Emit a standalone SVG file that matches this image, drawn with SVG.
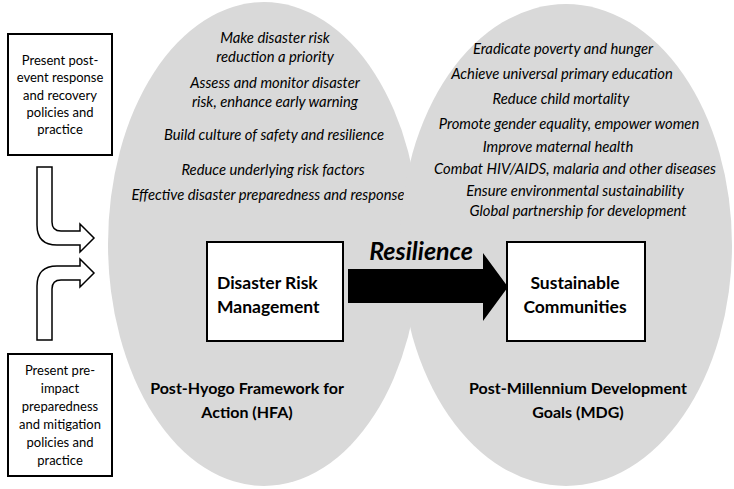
<svg xmlns="http://www.w3.org/2000/svg" width="734" height="489" viewBox="0 0 734 489">
<style>
.bg{fill:#d9d9d9;stroke:none}
.box{fill:#fff;stroke:#000;stroke-width:2}
.bent{fill:#fff;stroke:#000;stroke-width:1.5;stroke-linejoin:miter}
.t{font-family:Lato,"Liberation Sans",sans-serif;font-size:13px;fill:#000;text-anchor:middle}
.i{font-family:Lato,"Liberation Sans",sans-serif;font-size:14.8px;font-style:italic;fill:#000;text-anchor:middle}
.b{font-family:Lato,"Liberation Sans",sans-serif;font-size:16px;font-weight:bold;fill:#000;text-anchor:middle}
.bb{font-family:Lato,"Liberation Sans",sans-serif;font-size:17.5px;font-weight:bold;fill:#000}
.res{font-family:Lato,"Liberation Sans",sans-serif;font-size:25px;font-weight:bold;font-style:italic;fill:#000;text-anchor:middle}
</style>
<g id="hfa-ellipse">
<ellipse class="bg" cx="264" cy="244" rx="156" ry="242"/>
<text class="i" x="275" y="43">Make disaster risk</text>
<text class="i" x="275" y="62">reduction a priority</text>
<text class="i" x="275" y="88">Assess and monitor disaster</text>
<text class="i" x="275" y="107">risk, enhance early warning</text>
<text class="i" x="274" y="140">Build culture of safety and resilience</text>
<text class="i" x="273" y="175">Reduce underlying risk factors</text>
<text class="i" x="268" y="200">Effective disaster preparedness and response</text>
<text class="b" x="247" y="394">Post-Hyogo Framework for</text>
<text class="b" x="247" y="418">Action (HFA)</text>
</g>
<g id="mdg-ellipse">
<ellipse class="bg" cx="566" cy="245" rx="166" ry="241"/>
<text class="i" x="563" y="54">Eradicate poverty and hunger</text>
<text class="i" x="562" y="79">Achieve universal primary education</text>
<text class="i" x="561" y="104">Reduce child mortality</text>
<text class="i" x="569" y="129">Promote gender equality, empower women</text>
<text class="i" x="558" y="152">Improve maternal health</text>
<text class="i" x="575" y="174">Combat HIV/AIDS, malaria and other diseases</text>
<text class="i" x="575" y="196">Ensure environmental sustainability</text>
<text class="i" x="578" y="216">Global partnership for development</text>
<text class="b" x="578" y="394">Post-Millennium Development</text>
<text class="b" x="578" y="418">Goals (MDG)</text>
</g>
<g id="post-event">
<rect class="box" x="8" y="34" width="104" height="121"/>
<text class="t" x="60" y="65">Present post-</text>
<text class="t" x="60" y="82">event response</text>
<text class="t" x="60" y="99.5">and recovery</text>
<text class="t" x="60" y="117">policies and</text>
<text class="t" x="60" y="134">practice</text>
</g>
<g id="pre-impact">
<rect class="box" x="8" y="354" width="104" height="122"/>
<text class="t" x="60" y="375">Present pre-</text>
<text class="t" x="60" y="393">impact</text>
<text class="t" x="60" y="411">preparedness</text>
<text class="t" x="60" y="429">and mitigation</text>
<text class="t" x="60" y="447">policies and</text>
<text class="t" x="60" y="465">practice</text>
</g>
<g id="drm">
<rect class="box" x="207" y="242" width="136" height="99"/>
<text class="bb" x="217" y="289">Disaster Risk</text>
<text class="bb" x="217" y="313">Management</text>
</g>
<g id="sc">
<rect class="box" x="507" y="242" width="138" height="99"/>
<text class="bb" x="575" y="289" text-anchor="middle">Sustainable</text>
<text class="bb" x="575" y="313" text-anchor="middle">Communities</text>
</g>
<g id="connectors">
<path class="bent" d="M37,167 L52,167 L52,222 Q52,231 61,231 L80,231 L80,224 L94,238 L80,252 L80,245 L57,245 Q37,245 37,225 Z"/>
<path class="bent" d="M37,340 L37,286 Q37,266 57,266 L80,266 L80,259 L94,273 L80,287 L80,280 L61,280 Q52,280 52,289 L52,340 Z"/>
<path d="M348,269 L483,269 L483,253 L508,287 L483,321 L483,303 L348,303 Z" fill="#000"/>
<text class="res" x="421" y="260">Resilience</text>
</g>
</svg>
